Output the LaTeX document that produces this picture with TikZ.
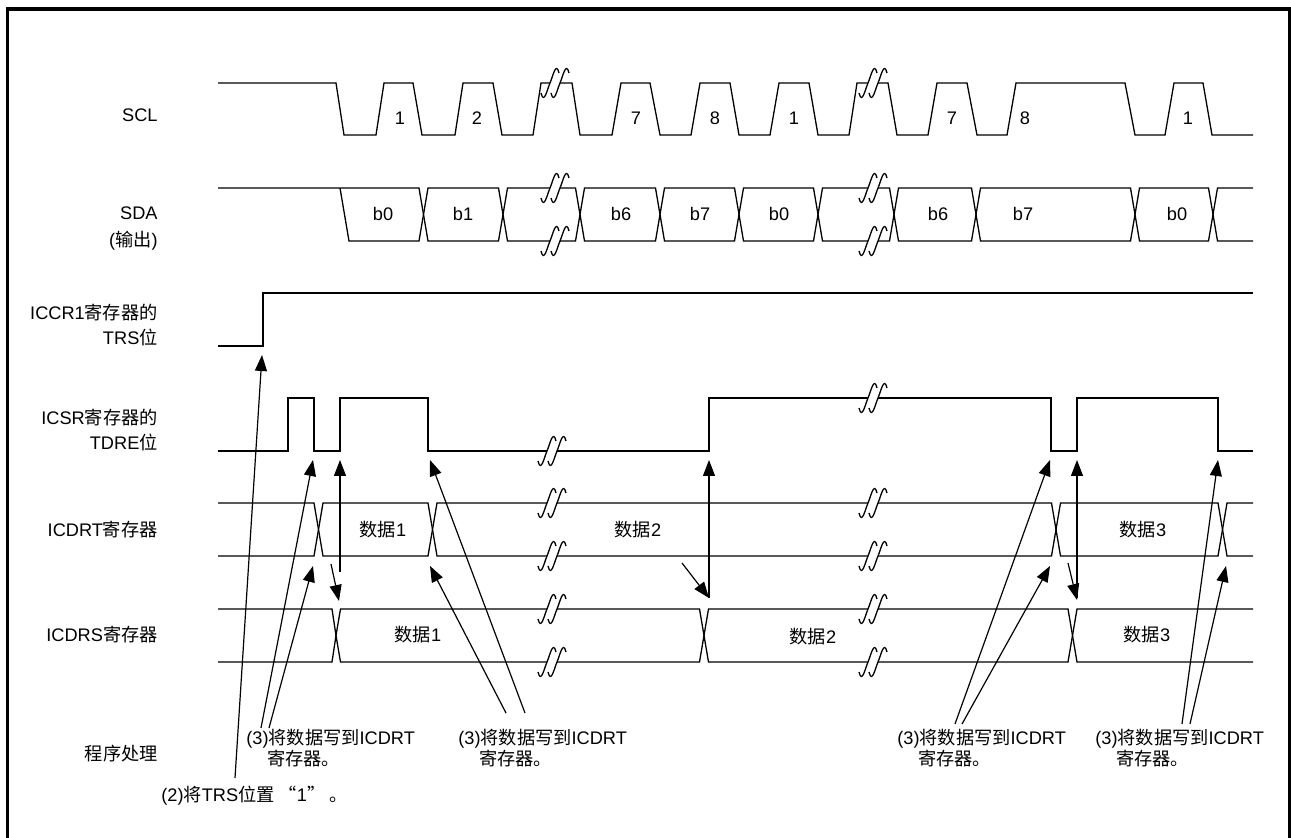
\documentclass[tikz,border=0pt]{standalone}
\usepackage{fontspec}
\setmainfont{Liberation Sans}
\newfontfamily\cjk{Noto Sans CJK SC}
\usetikzlibrary{arrows.meta}

% break mark drawn across a signal line
\tikzset{
  gap/.pic={
    \fill[white] (-14,10) .. controls (-11,22) and (-8,7) .. (-5,0)
      .. controls (-2,-7) and (1,-22) .. (4,-10) -- (14,-10)
      .. controls (11,-22) and (8,-7) .. (5,0)
      .. controls (2,7) and (-1,22) .. (-4,10) -- cycle;
    \draw[sig] (-14,10) .. controls (-11,22) and (-8,7) .. (-5,0)
      .. controls (-2,-7) and (1,-22) .. (4,-10);
    \draw[sig] (-4,10) .. controls (-1,22) and (2,7) .. (5,0)
      .. controls (8,-7) and (11,-22) .. (14,-10);
  }
}

\begin{document}
\begin{tikzpicture}[
  x=0.5pt, y=-0.5pt,
  sig/.style={line width=0.65pt},
  arr/.style={-{Triangle[length=8pt,width=6pt]}, line width=0.6pt},
  lbl/.style={anchor=base east, align=right, inner sep=0pt,
    font=\fontsize{9.1}{12.5}\selectfont},
  note/.style={anchor=base west, align=left, inner sep=0pt,
    font=\fontsize{9.1}{10.5}\selectfont},
  val/.style={inner sep=0pt, font=\fontsize{9.1}{11}\selectfont}
]
\useasboundingbox (0,0) rectangle (1291,838);
\draw[line width=1.65pt] (7.7,838) -- (7.7,9) -- (1289.5,9) -- (1289.5,838);

% signal names
\node[lbl] (scl) at (158,122) {SCL};
\node[lbl, font=\fontsize{9.1}{13.5}\selectfont] (sda) at (158,247) {SDA\\({\cjk 输出})};
\node[lbl] (trs) at (158,345) {ICCR1{\cjk 寄存器的}\\TRS{\cjk 位}};
\node[lbl] (tdre) at (158,450) {ICSR{\cjk 寄存器的}\\TDRE{\cjk 位}};
\node[lbl] (icdrt) at (158,537) {ICDRT{\cjk 寄存器}};
\node[lbl] (icdrs) at (158,642) {ICDRS{\cjk 寄存器}};
\node[lbl] (prog) at (158,761) {{\cjk 程序处理}};

% SCL
\draw[sig] (218,83) -- (336,83) -- (344,135) -- (376,135) -- (384,83)
  -- (413,83) -- (422,135) -- (455,135) -- (463,83) -- (493,83) -- (502,135)
  -- (533,135) -- (541,83) -- (572,83) -- (580,135) -- (612,135) -- (621,83)
  -- (650,83) -- (660,135) -- (691,135) -- (700,83) -- (730,83) -- (739,135)
  -- (770,135) -- (779,83) -- (809,83) -- (818,135) -- (849,135) -- (857,83)
  -- (888,83) -- (897,135) -- (928,135) -- (937,83) -- (967,83) -- (977,135)
  -- (1007,135) -- (1016,83) -- (1125,83) -- (1135,135) -- (1165,135)
  -- (1174,83) -- (1203,83) -- (1212,135) -- (1253,135);
\foreach \x/\t in {400/1, 477/2, 636/7, 715/8, 794/1, 952/7, 1025/8, 1188/1}
  \node[val] (c\x) at (\x,118) {\t};

% SDA
\draw[sig] (218,188) -- (419,188) -- (423.5,214.5) -- (419,241) -- (349,241) -- (340,188);
\foreach \a/\b in {423.5/503, 503/580, 580/660, 660/739, 739/818, 818/894,
    894/976, 976/1135, 1135/1213}
  \draw[sig] (\a,214.5) -- (\a+4.5,188) -- (\b-4.5,188) -- (\b,214.5)
    -- (\b-4.5,241) -- (\a+4.5,241) -- cycle;
\draw[sig] (1253,188) -- (1217.5,188) -- (1213,214.5) -- (1217.5,241) -- (1253,241);
\foreach \x/\t in {383/b0, 463/b1, 621/b6, 700/b7, 779/b0, 938/b6, 1023/b7, 1177/b0}
  \node[val] (b\x) at (\x,214) {\t};

% TRS
\draw[sig] (218,346) -- (263,346) -- (263,293) -- (1253,293);

% TDRE
\draw[sig] (218,451) -- (288,451) -- (288,398) -- (314,398) -- (314,451)
  -- (340,451) -- (340,398) -- (428,398) -- (428,451) -- (709,451)
  -- (709,398) -- (1051,398) -- (1051,451) -- (1077,451) -- (1077,398)
  -- (1218,398) -- (1218,451) -- (1253,451);

% ICDRT
\draw[sig] (218,503) -- (314,503) -- (318.5,529.5) -- (314,556) -- (218,556);
\foreach \a/\b in {318.5/432.5, 432.5/1056, 1056/1222.5}
  \draw[sig] (\a,529.5) -- (\a+4.5,503) -- (\b-4.5,503) -- (\b,529.5)
    -- (\b-4.5,556) -- (\a+4.5,556) -- cycle;
\draw[sig] (1253,503) -- (1227,503) -- (1222.5,529.5) -- (1227,556) -- (1253,556);

% ICDRS
\draw[sig] (218,609) -- (332,609) -- (336,635.5) -- (332,662) -- (218,662);
\foreach \a/\b in {336/704, 704/1072.5}
  \draw[sig] (\a,635.5) -- (\a+4.5,609) -- (\b-4.5,609) -- (\b,635.5)
    -- (\b-4.5,662) -- (\a+4.5,662) -- cycle;
\draw[sig] (1253,609) -- (1077,609) -- (1072.5,635.5) -- (1077,662) -- (1253,662);

\node[val] (t1) at (383,530) {{\cjk 数据}1};
\node[val] (t2) at (638,530) {{\cjk 数据}2};
\node[val] (t3) at (1143,530) {{\cjk 数据}3};
\node[val] (s1) at (418,635) {{\cjk 数据}1};
\node[val] (s2) at (813,637) {{\cjk 数据}2};
\node[val] (s3) at (1147,635) {{\cjk 数据}3};

% breaks
\foreach \y in {83,188,241} \pic at (555,\y) {gap};
\foreach \y in {451,503,556,609,662} \pic at (552,\y) {gap};
\foreach \y in {83,188,241,398,503,556,609,662} \pic at (873,\y) {gap};

% program notes
\node[note] (w1) at (246,766) {(3){\cjk 将数据写到}ICDRT\\\hspace*{1.15em}{\cjk 寄存器。}};
\node[note] (w2) at (458,766) {(3){\cjk 将数据写到}ICDRT\\\hspace*{1.15em}{\cjk 寄存器。}};
\node[note] (w3) at (897,766) {(3){\cjk 将数据写到}ICDRT\\\hspace*{1.15em}{\cjk 寄存器。}};
\node[note] (w4) at (1095,766) {(3){\cjk 将数据写到}ICDRT\\\hspace*{1.15em}{\cjk 寄存器。}};
\node[note] (set) at (161,802) {(2){\cjk 将}TRS{\cjk 位置 “}1{\cjk ” 。}};

% arrow ends
\coordinate (p2) at (235,778);
\coordinate (trsup) at (262,355);
\coordinate (a1) at (261,728);
\coordinate (a2) at (269,728);
\coordinate (d1) at (525,713);
\coordinate (d2) at (506,713);
\coordinate (e1) at (955,724);
\coordinate (e2) at (962,724);
\coordinate (f1) at (1182,724);
\coordinate (f2) at (1190,724);
\coordinate (fall1) at (313,460);
\coordinate (dt1) at (313,566);
\coordinate (fall2) at (430,460);
\coordinate (dt2) at (430,566);
\coordinate (fall3) at (1050,460);
\coordinate (dt3) at (1050,566);
\coordinate (fall4) at (1218,460);
\coordinate (dt4) at (1226,566);
\coordinate (rise1) at (340,460);
\coordinate (rise2) at (709,460);
\coordinate (rise3) at (1077,460);
\coordinate (ds1) at (339,601);
\coordinate (ds2) at (709,598);
\coordinate (ds3) at (1077,600);

\draw[arr] (p2) -- (trsup);
\draw[arr] (a1) -- (fall1);
\draw[arr] (a2) -- (dt1);
\draw[arr] (d1) -- (fall2);
\draw[arr] (d2) -- (dt2);
\draw[arr] (e1) -- (fall3);
\draw[arr] (e2) -- (dt3);
\draw[arr] (f1) -- (fall4);
\draw[arr] (f2) -- (dt4);
\draw[arr] (331,564) -- (ds1);
\draw[arr] (682,563) -- (ds2);
\draw[arr] (1068,563) -- (ds3);
\draw[arr] (340,572) -- (rise1);
\draw[arr] (ds2) -- (rise2);
\draw[arr] (1077,598) -- (rise3);
\end{tikzpicture}
\end{document}
